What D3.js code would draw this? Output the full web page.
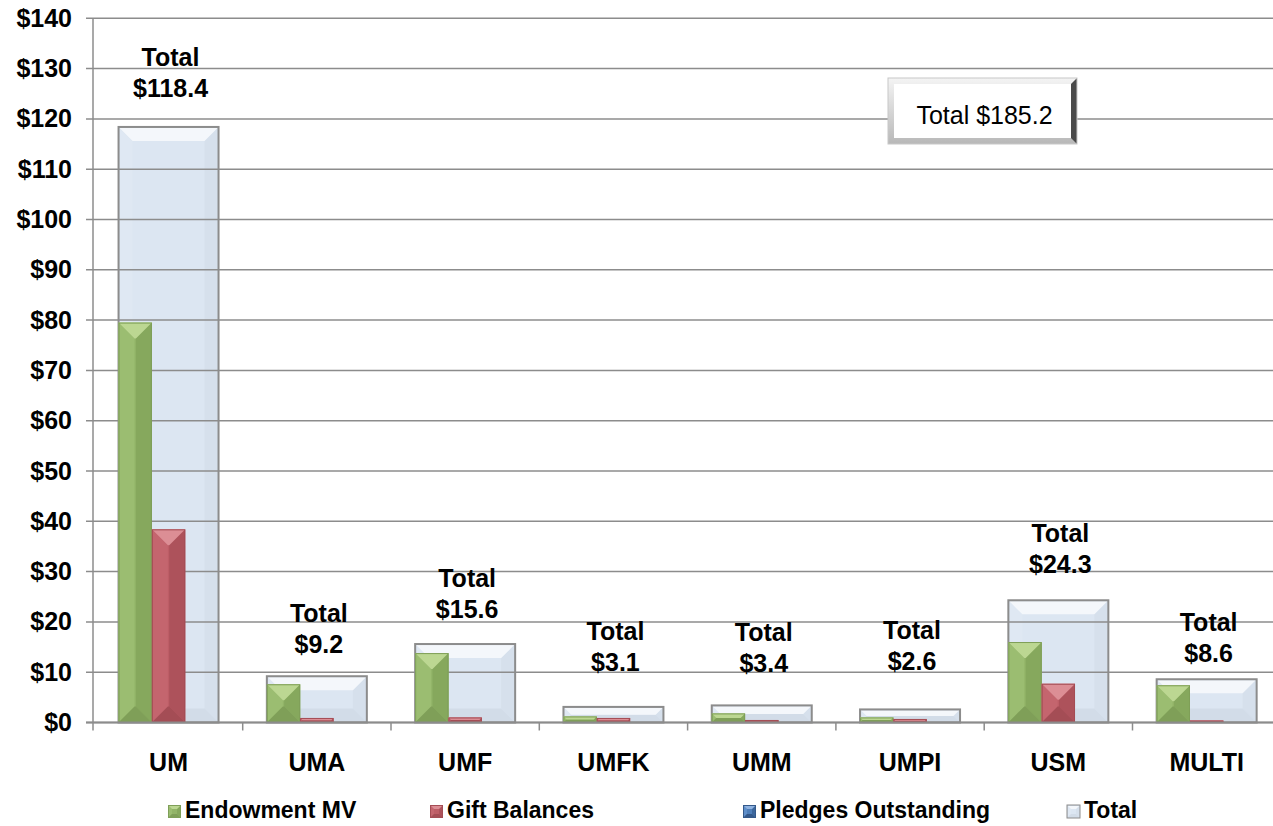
<!DOCTYPE html>
<html>
<head>
<meta charset="utf-8">
<script src="https://cdn.jsdelivr.net/npm/d3@7"></script>
<style>
  html, body { margin: 0; padding: 0; background: #fff; }
  svg { display: block; font-family: "Liberation Sans", Arial, sans-serif; }
</style>
</head>
<body>
<div id="chart"></div>
<script>
// data ($ millions)
var categories = ["UM", "UMA", "UMF", "UMFK", "UMM", "UMPI", "USM", "MULTI"];
var endowment = [79.5, 7.6, 13.8, 1.2, 1.8, 1.0, 16.0, 7.4];
var gifts = [38.4, 0.9, 1.0, 0.9, 0.5, 0.7, 7.7, 0.4];
var pledges = [0, 0, 0, 0, 0, 0, 0, 0];
var totals = [118.4, 9.2, 15.6, 3.1, 3.4, 2.6, 24.3, 8.6];
var yTicks = [0, 10, 20, 30, 40, 50, 60, 70, 80, 90, 100, 110, 120, 130, 140];
var seriesNames = ["Endowment MV", "Gift Balances", "Pledges Outstanding", "Total"];

// layout only (not data): where each "Total" label sits above its bar
var labelLift = [30, 23, 26, 36, 33, 39, 27, 17];
var legendX = [168, 430, 743, 1067];

var width = 1273, height = 826;

// bevel palettes: centre, top, left, right, bottom
var palettes = {
  green: ["#92b468", "#bcd792", "#9bbd71", "#86a85d", "#7f9f58"],
  red:   ["#bd5d66", "#dc8e95", "#c4656e", "#ad525b", "#a44d55"],
  blue:  ["#4f7fba", "#8fb2e0", "#5f8fca", "#3d679c", "#34598a"],
  total: ["#dce6f2", "#f4f7fb", "#dfe8f3", "#d6e0ec", "#d2dce8"]
};

var svg = d3.select("#chart")
    .append("svg")
    .attr("width", width)
    .attr("height", height);

var x = d3.scaleBand()
    .domain(categories)
    .range([94.4, 94.4 + 8 * 148.3])
    .padding(0);

var inner = d3.scaleBand()
    .domain([0, 1, 2])
    .range([24.15, 124.15])
    .padding(0);

var y = d3.scaleLinear()
    .domain([0, 140])
    .range([722.5, 18.3]);

function bevelBar(g, bx, by, bw, bh, pal, maxD) {
    if (bh <= 0) return;
    var d = Math.min(maxD, bw / 2, bh / 2);
    var x0 = bx, x1 = bx + bw, y0 = by, y1 = by + bh;
    g.append("rect").attr("x", x0).attr("y", y0).attr("width", bw).attr("height", bh).attr("fill", pal[0]);
    var polys = [
        [[x0, y0], [x0 + d, y0 + d], [x0 + d, y1 - d], [x0, y1], pal[2]],
        [[x1, y0], [x1 - d, y0 + d], [x1 - d, y1 - d], [x1, y1], pal[3]],
        [[x0, y1], [x1, y1], [x1 - d, y1 - d], [x0 + d, y1 - d], pal[4]],
        [[x0, y0], [x1, y0], [x1 - d, y0 + d], [x0 + d, y0 + d], pal[1]]
    ];
    polys.forEach(function(p) {
        g.append("polygon")
            .attr("points", p.slice(0, 4).map(function(q) { return q.join(","); }).join(" "))
            .attr("fill", p[4]);
    });
    g.append("rect").attr("x", x0 + 0.5).attr("y", y0 + 0.5)
        .attr("width", Math.max(0, bw - 1)).attr("height", Math.max(0, bh - 1))
        .attr("fill", "none").attr("stroke", pal[4]).attr("stroke-width", 1);
}

// total bars (behind everything)
var totalG = svg.append("g");
categories.forEach(function(c, i) {
    var bx = x(c) + inner.range()[0];
    var bw = inner.range()[1] - inner.range()[0];
    var top = y(totals[i]);
    bevelBar(totalG, bx, top, bw, y(0) - top, palettes.total, 14);
    totalG.append("rect")
        .attr("x", bx).attr("y", top)
        .attr("width", bw).attr("height", y(0) - top)
        .attr("fill", "none")
        .attr("stroke", "#8c8c8c")
        .attr("stroke-width", 2);
});

// gridlines
svg.append("g")
    .selectAll("line")
    .data(yTicks)
    .enter().append("line")
    .attr("x1", 86)
    .attr("x2", width)
    .attr("y1", function(d) { return y(d); })
    .attr("y2", function(d) { return y(d); })
    .attr("stroke", "#8c8c8c")
    .attr("stroke-width", 1.5);

// y axis
var yAxis = svg.append("g")
    .attr("transform", "translate(93,0)")
    .call(d3.axisLeft(y).tickValues(yTicks).tickSize(0).tickPadding(21)
        .tickFormat(function(d) { return "$" + d; }));
yAxis.select(".domain").remove();
yAxis.selectAll("text")
    .attr("font-size", 25)
    .attr("font-weight", "bold")
    .attr("fill", "#000")
    .attr("font-family", "'Liberation Sans', Arial, sans-serif");

svg.append("line")
    .attr("x1", 93).attr("x2", 93)
    .attr("y1", y(140)).attr("y2", y(0) + 8)
    .attr("stroke", "#8c8c8c")
    .attr("stroke-width", 1.5);

// series bars
var barG = svg.append("g");
var series = [endowment, gifts, pledges];
var seriesPal = [palettes.green, palettes.red, palettes.blue];
categories.forEach(function(c, i) {
    series.forEach(function(vals, s) {
        var top = y(vals[i]);
        bevelBar(barG, x(c) + inner(s), top, inner.bandwidth(), y(0) - top, seriesPal[s], 16);
    });
});

// x axis
svg.append("line")
    .attr("x1", 86).attr("x2", width)
    .attr("y1", y(0)).attr("y2", y(0))
    .attr("stroke", "#8c8c8c")
    .attr("stroke-width", 2);

var xAxis = svg.append("g")
    .attr("transform", "translate(0," + y(0) + ")")
    .call(d3.axisBottom(x).tickSize(0).tickPadding(31));
xAxis.select(".domain").remove();
xAxis.selectAll("text")
    .attr("font-size", 25)
    .attr("font-weight", "bold")
    .attr("fill", "#000")
    .attr("font-family", "'Liberation Sans', Arial, sans-serif");

svg.append("g")
    .selectAll("line")
    .data(categories.slice(1))
    .enter().append("line")
    .attr("x1", function(d) { return x(d); })
    .attr("x2", function(d) { return x(d); })
    .attr("y1", y(0))
    .attr("y2", y(0) + 8)
    .attr("stroke", "#8c8c8c")
    .attr("stroke-width", 1.5);

// "Total" labels
var labels = svg.append("g")
    .attr("font-size", 25)
    .attr("font-weight", "bold")
    .attr("text-anchor", "middle");
categories.forEach(function(c, i) {
    var cx = x(c) + x.bandwidth() / 2 + 2;
    var base = y(totals[i]) - labelLift[i];
    labels.append("text").attr("x", cx).attr("y", base - 31).text("Total");
    labels.append("text").attr("x", cx).attr("y", base).text("$" + totals[i].toFixed(1));
});

// grand total box
var box = svg.append("g");
var bx = 888, by = 78, bw = 189, bh = 66;
var boxGrad = svg.append("defs").append("linearGradient")
    .attr("id", "boxEdge").attr("x1", 0).attr("y1", 0).attr("x2", 0).attr("y2", 1);
boxGrad.append("stop").attr("offset", "0%").attr("stop-color", "#f4f4f4");
boxGrad.append("stop").attr("offset", "100%").attr("stop-color", "#b8b8b8");
box.append("rect").attr("x", bx).attr("y", by).attr("width", bw).attr("height", bh).attr("fill", "url(#boxEdge)");
box.append("polygon")
    .attr("points", [[bx + bw, by], [bx + bw - 6, by + 6], [bx + bw - 6, by + bh - 6], [bx + bw, by + bh]].join(" "))
    .attr("fill", "#4a4a4a");
box.append("rect").attr("x", bx + 6).attr("y", by + 6).attr("width", bw - 12).attr("height", bh - 12).attr("fill", "#fff");
box.append("rect").attr("x", bx).attr("y", by).attr("width", bw).attr("height", bh)
    .attr("fill", "none").attr("stroke", "#c8c8c8").attr("stroke-width", 1);
box.append("text")
    .attr("x", bx + bw / 2 + 2)
    .attr("y", by + 46)
    .attr("text-anchor", "middle")
    .attr("font-size", 25)
    .text("Total $" + d3.sum(totals).toFixed(1));

// legend
var legendPal = [palettes.green, palettes.red, palettes.blue, palettes.total];
var legend = svg.append("g");
seriesNames.forEach(function(name, i) {
    bevelBar(legend, legendX[i], 805, 13, 13, legendPal[i], 4);
    if (i === 3) {
        legend.append("rect").attr("x", legendX[i]).attr("y", 805).attr("width", 13).attr("height", 13)
            .attr("fill", "none").attr("stroke", "#8c8c8c").attr("stroke-width", 1);
    }
    legend.append("text")
        .attr("x", legendX[i] + 17)
        .attr("y", 818)
        .attr("font-size", 23)
        .attr("font-weight", "bold")
        .text(name);
});
</script>
</body>
</html>
